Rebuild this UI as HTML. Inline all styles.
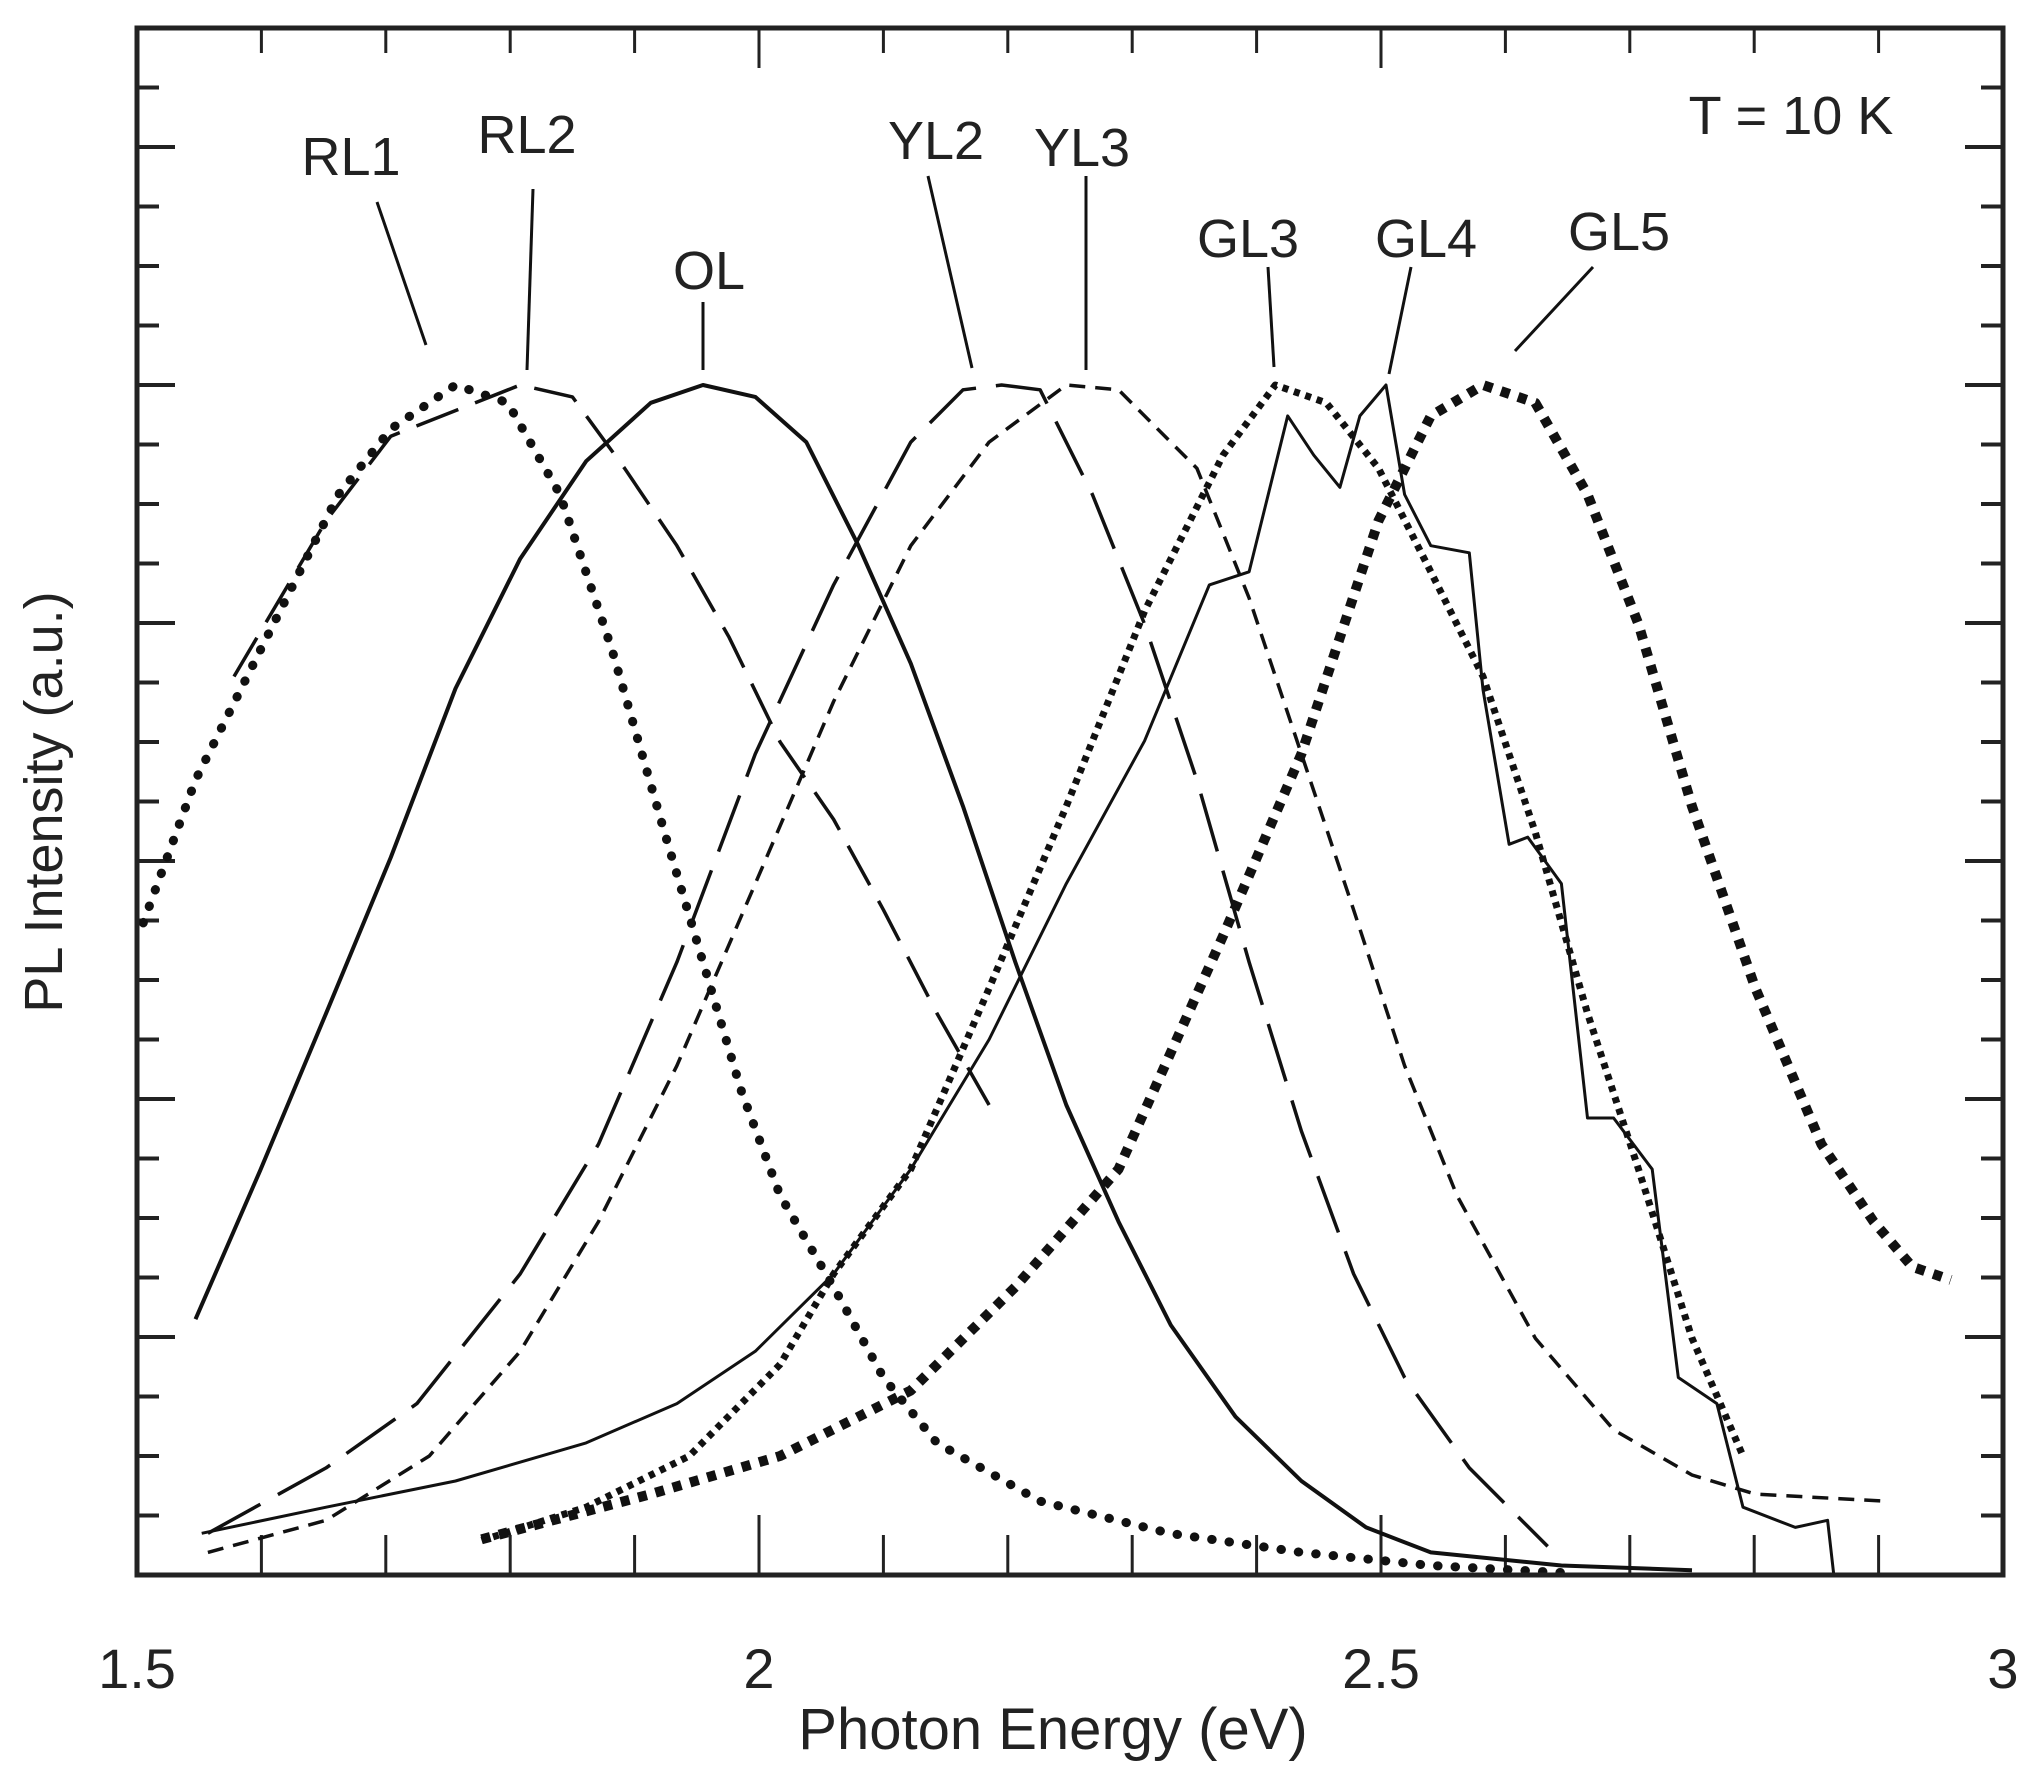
<!DOCTYPE html>
<html><head><meta charset="utf-8"><style>
html,body{margin:0;padding:0;background:#fff;}
svg{display:block;font-family:"Liberation Sans",sans-serif;}
</style></head><body>
<svg id="chart" width="2039" height="1775" viewBox="0 0 2039 1775" xmlns="http://www.w3.org/2000/svg">
<g id="ticks"></g>
<g id="curves"></g>
<rect x="137" y="28" width="1866" height="1547" fill="none" stroke="#222" stroke-width="5"/>
<g id="labels" font-size="54" fill="#222" text-anchor="middle"></g>
<text x="1791" y="134" font-size="54" text-anchor="middle" fill="#222">T = 10 K</text>
<text x="1053" y="1749" font-size="58" text-anchor="middle" fill="#222">Photon Energy (eV)</text>
<text transform="translate(62,802) rotate(-90)" font-size="54" text-anchor="middle" fill="#222">PL Intensity (a.u.)</text>
</svg>
<script>
const xTickLabels = ["1.5","2","2.5","3"];
const xTickValues = [1.5,2,2.5,3];
const seriesNames = ["RL1","RL2","OL","YL2","YL3","GL3","GL4","GL5"];
const RL1 = [[1.505,0.548],[1.547,0.668],[1.599,0.777],[1.662,0.908],[1.704,0.963],[1.756,1.0],[1.798,0.985],[1.84,0.908],[1.882,0.777],[1.924,0.624],[1.955,0.515],[1.986,0.406],[2.017,0.319],[2.06,0.242],[2.10,0.166],[2.143,0.111],[2.226,0.062],[2.33,0.035],[2.436,0.019],[2.54,0.008],[2.645,0.002]];
const RL2 = [[1.578,0.755],[1.652,0.886],[1.704,0.957],[1.808,1.0],[1.85,0.99],[1.892,0.93],[1.934,0.865],[1.976,0.788],[2.017,0.70],[2.06,0.635],[2.10,0.559],[2.143,0.472],[2.185,0.395]];
const OL = [[1.547,0.215],[1.599,0.34],[1.652,0.472],[1.704,0.603],[1.756,0.745],[1.808,0.854],[1.861,0.936],[1.913,0.985],[1.955,1.0],[1.997,0.99],[2.038,0.952],[2.08,0.865],[2.122,0.766],[2.164,0.646],[2.206,0.515],[2.247,0.395],[2.289,0.297],[2.331,0.21],[2.383,0.133],[2.436,0.079],[2.488,0.04],[2.54,0.019],[2.645,0.008],[2.75,0.004]];
const YL2 = [[1.557,0.035],[1.652,0.09],[1.725,0.144],[1.808,0.253],[1.871,0.362],[1.934,0.515],[1.997,0.69],[2.06,0.832],[2.122,0.952],[2.164,0.996],[2.195,1.0],[2.226,0.996],[2.268,0.908],[2.31,0.799],[2.352,0.668],[2.394,0.515],[2.436,0.373],[2.478,0.253],[2.519,0.166],[2.571,0.09],[2.634,0.024]];
const YL3 = [[1.557,0.019],[1.652,0.046],[1.735,0.1],[1.808,0.188],[1.871,0.297],[1.934,0.428],[1.997,0.581],[2.06,0.734],[2.122,0.865],[2.185,0.952],[2.247,1.0],[2.289,0.996],[2.352,0.93],[2.394,0.821],[2.436,0.69],[2.478,0.559],[2.519,0.428],[2.561,0.319],[2.624,0.199],[2.687,0.122],[2.75,0.084],[2.801,0.068],[2.906,0.062]];
const GL3 = [[1.777,0.029],[1.861,0.057],[1.944,0.1],[2.017,0.177],[2.06,0.253],[2.122,0.341],[2.185,0.493],[2.247,0.646],[2.31,0.81],[2.373,0.941],[2.415,1.0],[2.456,0.985],[2.498,0.93],[2.54,0.843],[2.582,0.755],[2.624,0.624],[2.666,0.472],[2.707,0.341],[2.75,0.199],[2.791,0.1]];
const GL4 = [[1.552,0.035],[1.652,0.057],[1.756,0.079],[1.861,0.111],[1.934,0.144],[1.997,0.188],[2.06,0.253],[2.122,0.341],[2.185,0.45],[2.247,0.581],[2.31,0.701],[2.362,0.832],[2.394,0.843],[2.425,0.974],[2.446,0.941],[2.467,0.914],[2.483,0.974],[2.504,1.0],[2.519,0.908],[2.54,0.865],[2.571,0.859],[2.582,0.744],[2.603,0.614],[2.618,0.62],[2.645,0.581],[2.666,0.384],[2.687,0.384],[2.718,0.341],[2.739,0.166],[2.77,0.144],[2.791,0.057],[2.833,0.04],[2.859,0.046],[2.864,0.0]];
const GL5 = [[1.777,0.03],[1.913,0.068],[2.017,0.1],[2.122,0.155],[2.206,0.242],[2.289,0.341],[2.373,0.537],[2.436,0.69],[2.498,0.886],[2.54,0.974],[2.582,1.0],[2.624,0.985],[2.666,0.908],[2.707,0.799],[2.75,0.646],[2.801,0.493],[2.854,0.362],[2.896,0.297],[2.927,0.259],[2.958,0.248]];

const NS="http://www.w3.org/2000/svg";
const X0=137,X1=2003,Y0=1575,YPEAK=385;
function xs(v){return X0+(v-1.5)/1.5*(X1-X0);}
function ys(v){return Y0-v*(Y0-YPEAK);}
function mk(tag,attrs,parent){const e=document.createElementNS(NS,tag);for(const k in attrs)e.setAttribute(k,attrs[k]);parent.appendChild(e);return e;}

const tg=document.getElementById('ticks');
for(let i=0;i<=15;i++){
  const v=1.5+i*0.1, x=xs(v), major=(i%5===0);
  const len=major?60:40;
  const t1=mk('line',{x1:x,y1:Y0,x2:x,y2:Y0-len,stroke:'#222','stroke-width':3},tg);
  
  
  const t2=mk('line',{x1:x,y1:28,x2:x,y2:28+(major?40:25),stroke:'#222','stroke-width':3},tg);
  
  
}
for(let k=1;k*59.5<Y0-40;k++){
  const y=Y0-k*59.5, major=(k%4===0);
  const l1=mk('line',{x1:137,y1:y,x2:137+(major?38:22),y2:y,stroke:'#222','stroke-width':4},tg);
  
  
  const l2=mk('line',{x1:2003,y1:y,x2:2003-(major?38:22),y2:y,stroke:'#222','stroke-width':4},tg);
  
  
}
xTickValues.forEach((v,i)=>{
  const t=mk('text',{x:xs(v),y:1688,'font-size':56,'text-anchor':'middle',fill:'#222'},tg);
  t.textContent=xTickLabels[i];
  
  
});

const styles={
 RL1:{w:9,d:'0.5 17',cap:'round'},
 RL2:{w:3.5,d:'45 18',cap:'butt'},
 OL:{w:4,d:'none',cap:'butt'},
 YL2:{w:3.5,d:'60 20',cap:'butt'},
 YL3:{w:3.5,d:'16 10',cap:'butt'},
 GL3:{w:7,d:'6 6',cap:'butt'},
 GL4:{w:3,d:'none',cap:'butt'},
 GL5:{w:10,d:'9 9',cap:'butt'}
};
const data={RL1,RL2,OL,YL2,YL3,GL3,GL4,GL5};
const cg=document.getElementById('curves');
seriesNames.forEach(n=>{
  const pts=data[n].map(p=>xs(p[0]).toFixed(1)+','+ys(p[1]).toFixed(1));
  const s=styles[n];
  const p=mk('polyline',{points:pts.join(' '),fill:'none',stroke:'#111','stroke-width':s.w,'stroke-dasharray':s.d,'stroke-linecap':s.cap,'stroke-linejoin':'round'},cg);
  
  
});

const labelPos=[["RL1",351,175,377,202,426,345],["RL2",527,153,533,189,527,370],["OL",709,289,703,302,703,370],["YL2",936,159,928,176,972,368],["YL3",1082,166,1086,176,1086,370],["GL3",1248,257,1268,267,1274,367],["GL4",1426,257,1411,267,1389,374],["GL5",1619,250,1593,267,1515,351]];
const lg=document.getElementById('labels');
labelPos.forEach(a=>{
  const t=mk('text',{x:a[1],y:a[2]},lg);
  t.textContent=a[0];
  
  
  const l=mk('line',{x1:a[3],y1:a[4],x2:a[5],y2:a[6],stroke:'#111','stroke-width':3},lg);
  
  
});
</script>
</body></html>
